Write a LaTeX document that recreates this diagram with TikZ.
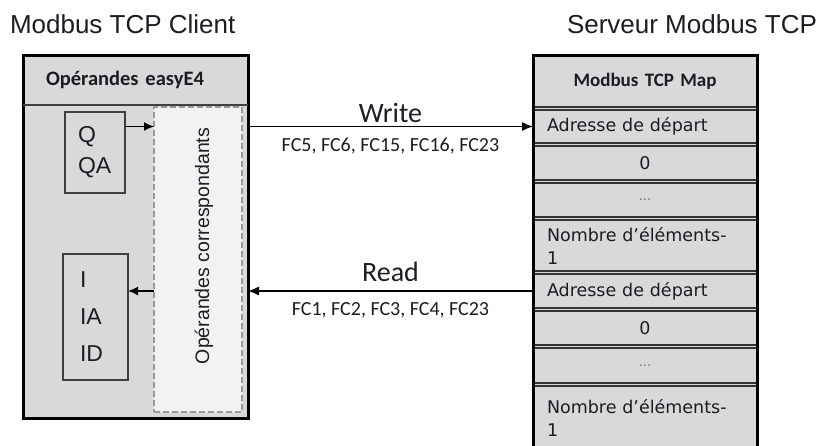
\documentclass[tikz,border=0pt]{standalone}
\usepackage{fontspec}
\setmainfont{Liberation Sans}
\newfontfamily\calibfont{Carlito}
\newfontfamily\cellfont{DejaVu Sans}
\usetikzlibrary{arrows.meta,positioning,fit,backgrounds}
\definecolor{panel}{RGB}{217,217,217}
\definecolor{pale}{RGB}{242,242,242}
\definecolor{ink}{RGB}{28,28,36}
\definecolor{rim}{RGB}{64,64,64}

\begin{document}
\begin{tikzpicture}[x=1pt,y=-1pt,
  every node/.style={inner sep=0pt,outer sep=0pt,text=ink},
  title/.style={font=\fontsize{26}{30}\selectfont},
  frame/.style={draw=black,line width=3pt,fill=panel},
  regbox/.style={draw=rim,line width=1.5pt,fill=panel,align=left},
  cell/.style={draw=black!80,line width=1.2pt,fill=panel,minimum width=224pt,
    inner xsep=14pt,text width=196pt,font=\cellfont\fontsize{17.5}{23}\selectfont},
  flow/.style={-{Latex[length=11pt,width=9pt]},line width=1.3pt},
  tick/.style={-{Latex[length=10pt,width=9pt]},line width=1.6pt},
  fcode/.style={font=\calibfont\fontsize{20}{24}\selectfont},
  verb/.style={font=\calibfont\fontsize{28}{32}\selectfont}]
\useasboundingbox (0,0) rectangle (820,445);

% titles
\node[title,anchor=base west] (cltitle) at (10,33) {Modbus TCP Client};
\node[title,anchor=base east] (srvtitle) at (817,33) {Serveur Modbus TCP};

% client side
\node[frame,minimum width=225pt,minimum height=363pt] (client) at (135.5,236.5) {};
\node[anchor=north west,minimum width=225pt,minimum height=50pt,inner xsep=23pt,
  text width=179pt,align=left,font=\calibfont\bfseries\fontsize{20.5}{24}\selectfont]
  (clhead) at (client.north west) {Opérandes easyE4};
\draw[rim,line width=1.5pt] (clhead.south west) -- (clhead.south east);
\node[draw=black!40,dash pattern=on 6pt off 3pt,line width=1.5pt,fill=pale,
  minimum width=88pt,minimum height=305pt] (corr) at (198,259.5) {};
\node[rotate=90,font=\fontsize{19.5}{22}\selectfont] (corrtxt) at (204,246)
  {Opérandes correspondants};
\node[regbox,minimum width=60pt,minimum height=81pt,inner xsep=13pt,text width=34pt,
  font=\fontsize{23}{31}\selectfont] (qbox) at (95,152.5) {Q\\QA};
\node[regbox,minimum width=65pt,minimum height=126pt,inner xsep=17pt,text width=31pt,
  font=\fontsize{23}{37}\selectfont] (ibox) at (95.5,317) {I\\IA\\ID};

% server map
\node[cell,minimum height=52pt,align=center,
  font=\calibfont\bfseries\fontsize{19}{23}\selectfont] (maphead) at (645,81) {Modbus TCP Map};
\node[cell,minimum height=33pt,align=left,below=3pt of maphead] (r1) {Adresse de départ};
\node[cell,minimum height=34pt,align=center,below=3pt of r1] (r2) {0};
\node[cell,minimum height=34pt,align=center,below=3pt of r2] (r3) {\textcolor{black!55}{\fontsize{13}{15}\selectfont...}};
\node[cell,minimum height=51pt,align=left,below=3pt of r3] (r4) {Nombre d’éléments-\\1};
\node[cell,minimum height=34pt,align=left,below=3pt of r4] (r5) {Adresse de départ};
\node[cell,minimum height=34pt,align=center,below=3pt of r5] (r6) {0};
\node[cell,minimum height=35pt,align=center,below=3pt of r6] (r7) {\textcolor{black!55}{\fontsize{13}{15}\selectfont...}};
\node[cell,minimum height=64pt,align=left,below=3pt of r7] (r8) {Nombre d’éléments-\\1};
\begin{scope}[on background layer]
\node[fit=(maphead)(r8),fill=panel] (mapfill) {};
\end{scope}
\node[fit=(maphead)(r8),draw=black,line width=3pt] (map) {};

% links
\draw[tick] (qbox.east |- r1) -- (corr.west |- r1);
\draw[tick] (corr.west |- r5) -- (ibox.east |- r5);
\draw[flow] (client.east |- r1) -- (r1.west)
  node[midway,above=4pt,verb] (wlabel) {Write}
  node[midway,below=11pt,fcode] (wcodes) {FC5, FC6, FC15, FC16, FC23};
\draw[flow] (r5.west) -- (client.east |- r5)
  node[midway,above=9pt,verb] (rlabel) {Read}
  node[midway,below=12pt,fcode] (rcodes) {FC1, FC2, FC3, FC4, FC23};
\end{tikzpicture}
\end{document}
